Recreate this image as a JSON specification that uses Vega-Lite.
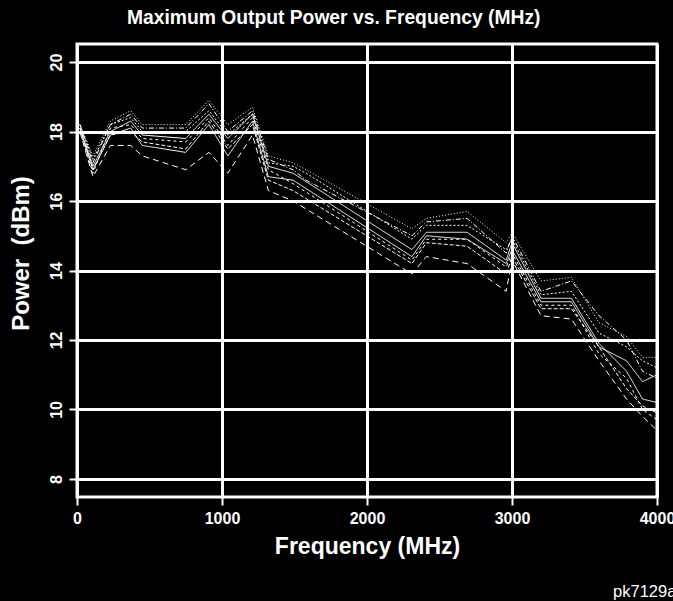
{
  "$schema": "https://vega.github.io/schema/vega-lite/v6.json",
  "width": 580,
  "height": 453,
  "autosize": {"type": "none"},
  "padding": {"left": 77, "top": 44, "right": 16, "bottom": 104},
  "background": "black",
  "config": {
    "font": "Liberation Sans",
    "view": {"stroke": "white", "strokeWidth": 3}
  },
  "title": {
    "text": "Maximum Output Power vs. Frequency (MHz)",
    "color": "white",
    "font": "Liberation Sans",
    "fontSize": 19.3,
    "fontWeight": "bold",
    "anchor": "middle",
    "frame": "bounds",
    "dx": -9,
    "offset": 16
  },
  "layer": [
    {
      "data": {
        "values": [
          {"t":"A","f":20,"p":18.2},{"t":"A","f":110,"p":17.3},{"t":"A","f":230,"p":18.3},{"t":"A","f":370,"p":18.6},{"t":"A","f":450,"p":18.2},{"t":"A","f":750,"p":18.2},{"t":"A","f":910,"p":18.9},{"t":"A","f":1040,"p":18.2},{"t":"A","f":1210,"p":18.7},{"t":"A","f":1320,"p":17.3},{"t":"A","f":1490,"p":17.1},{"t":"A","f":1580,"p":16.9},{"t":"A","f":2310,"p":15.2},{"t":"A","f":2410,"p":15.5},{"t":"A","f":2690,"p":15.7},{"t":"A","f":2960,"p":14.8},{"t":"A","f":3000,"p":15.1},{"t":"A","f":3200,"p":13.7},{"t":"A","f":3410,"p":13.8},{"t":"A","f":3600,"p":12.5},{"t":"A","f":3790,"p":12.1},{"t":"A","f":3900,"p":11.5},{"t":"A","f":4000,"p":11.5},
          {"t":"B","f":20,"p":18.2},{"t":"B","f":110,"p":17.1},{"t":"B","f":230,"p":18.2},{"t":"B","f":370,"p":18.5},{"t":"B","f":450,"p":18.1},{"t":"B","f":750,"p":18.1},{"t":"B","f":910,"p":18.8},{"t":"B","f":1040,"p":18.0},{"t":"B","f":1210,"p":18.6},{"t":"B","f":1320,"p":17.2},{"t":"B","f":1490,"p":16.9},{"t":"B","f":1580,"p":16.6},{"t":"B","f":2310,"p":15.0},{"t":"B","f":2410,"p":15.4},{"t":"B","f":2690,"p":15.5},{"t":"B","f":2960,"p":14.5},{"t":"B","f":3000,"p":15.0},{"t":"B","f":3200,"p":13.4},{"t":"B","f":3410,"p":13.7},{"t":"B","f":3600,"p":12.7},{"t":"B","f":3790,"p":12.0},{"t":"B","f":3900,"p":11.1},{"t":"B","f":4000,"p":10.9},
          {"t":"C","f":20,"p":18.1},{"t":"C","f":110,"p":17.0},{"t":"C","f":230,"p":18.0},{"t":"C","f":370,"p":18.3},{"t":"C","f":450,"p":17.9},{"t":"C","f":750,"p":17.8},{"t":"C","f":910,"p":18.5},{"t":"C","f":1040,"p":17.8},{"t":"C","f":1210,"p":18.5},{"t":"C","f":1320,"p":17.0},{"t":"C","f":1490,"p":16.8},{"t":"C","f":2310,"p":14.6},{"t":"C","f":2410,"p":15.1},{"t":"C","f":2690,"p":15.1},{"t":"C","f":2960,"p":14.3},{"t":"C","f":3000,"p":14.8},{"t":"C","f":3200,"p":13.2},{"t":"C","f":3410,"p":13.2},{"t":"C","f":3600,"p":11.9},{"t":"C","f":3790,"p":11.1},{"t":"C","f":3900,"p":10.3},{"t":"C","f":4000,"p":10.2},
          {"t":"D","f":20,"p":18.1},{"t":"D","f":110,"p":16.9},{"t":"D","f":230,"p":17.9},{"t":"D","f":370,"p":18.1},{"t":"D","f":450,"p":17.6},{"t":"D","f":750,"p":17.4},{"t":"D","f":910,"p":18.2},{"t":"D","f":1040,"p":17.3},{"t":"D","f":1210,"p":18.3},{"t":"D","f":1320,"p":16.7},{"t":"D","f":1490,"p":16.6},{"t":"D","f":2310,"p":14.4},{"t":"D","f":2410,"p":15.0},{"t":"D","f":2690,"p":14.9},{"t":"D","f":2960,"p":14.2},{"t":"D","f":3000,"p":14.6},{"t":"D","f":3200,"p":13.1},{"t":"D","f":3410,"p":13.1},{"t":"D","f":3600,"p":11.8},{"t":"D","f":3790,"p":11.4},{"t":"D","f":3900,"p":10.8},{"t":"D","f":4000,"p":11.0},
          {"t":"E","f":20,"p":18.0},{"t":"E","f":110,"p":16.8},{"t":"E","f":230,"p":18.1},{"t":"E","f":370,"p":18.2},{"t":"E","f":450,"p":17.8},{"t":"E","f":750,"p":17.7},{"t":"E","f":910,"p":18.4},{"t":"E","f":1040,"p":17.6},{"t":"E","f":1210,"p":18.4},{"t":"E","f":1320,"p":16.9},{"t":"E","f":1490,"p":16.5},{"t":"E","f":2310,"p":14.3},{"t":"E","f":2410,"p":14.9},{"t":"E","f":2690,"p":14.9},{"t":"E","f":2960,"p":14.1},{"t":"E","f":3000,"p":14.5},{"t":"E","f":3200,"p":13.0},{"t":"E","f":3410,"p":13.0},{"t":"E","f":3600,"p":11.6},{"t":"E","f":3790,"p":10.9},{"t":"E","f":3900,"p":10.0},{"t":"E","f":4000,"p":9.7},
          {"t":"F","f":20,"p":18.0},{"t":"F","f":110,"p":16.7},{"t":"F","f":230,"p":17.6},{"t":"F","f":370,"p":17.6},{"t":"F","f":450,"p":17.3},{"t":"F","f":750,"p":16.9},{"t":"F","f":910,"p":17.4},{"t":"F","f":1040,"p":16.8},{"t":"F","f":1210,"p":17.9},{"t":"F","f":1320,"p":16.3},{"t":"F","f":1490,"p":16.0},{"t":"F","f":2310,"p":13.9},{"t":"F","f":2410,"p":14.4},{"t":"F","f":2690,"p":14.2},{"t":"F","f":2960,"p":13.4},{"t":"F","f":3000,"p":14.3},{"t":"F","f":3200,"p":12.7},{"t":"F","f":3410,"p":12.6},{"t":"F","f":3600,"p":11.4},{"t":"F","f":3790,"p":10.3},{"t":"F","f":3900,"p":9.8},{"t":"F","f":4000,"p":9.4},
          {"t":"G","f":20,"p":18.2},{"t":"G","f":110,"p":17.2},{"t":"G","f":230,"p":18.2},{"t":"G","f":370,"p":18.4},{"t":"G","f":450,"p":18.0},{"t":"G","f":750,"p":18.0},{"t":"G","f":910,"p":18.6},{"t":"G","f":1040,"p":17.9},{"t":"G","f":1210,"p":18.5},{"t":"G","f":1320,"p":17.1},{"t":"G","f":1490,"p":17.0},{"t":"G","f":1580,"p":16.8},{"t":"G","f":2310,"p":14.9},{"t":"G","f":2410,"p":15.3},{"t":"G","f":2690,"p":15.3},{"t":"G","f":2960,"p":14.6},{"t":"G","f":3000,"p":14.9},{"t":"G","f":3200,"p":13.3},{"t":"G","f":3410,"p":13.4},{"t":"G","f":3600,"p":12.2},{"t":"G","f":3790,"p":11.8},{"t":"G","f":3900,"p":11.4},{"t":"G","f":4000,"p":11.2},
          {"t":"H","f":20,"p":18.1},{"t":"H","f":110,"p":16.9},{"t":"H","f":230,"p":17.9},{"t":"H","f":370,"p":18.0},{"t":"H","f":450,"p":17.7},{"t":"H","f":750,"p":17.5},{"t":"H","f":910,"p":18.3},{"t":"H","f":1040,"p":17.5},{"t":"H","f":1210,"p":18.2},{"t":"H","f":1320,"p":16.6},{"t":"H","f":1490,"p":16.3},{"t":"H","f":2310,"p":14.2},{"t":"H","f":2410,"p":14.8},{"t":"H","f":2690,"p":14.7},{"t":"H","f":2960,"p":13.9},{"t":"H","f":3000,"p":14.4},{"t":"H","f":3200,"p":12.9},{"t":"H","f":3410,"p":12.9},{"t":"H","f":3600,"p":11.8},{"t":"H","f":3790,"p":10.6},{"t":"H","f":3900,"p":10.1},{"t":"H","f":4000,"p":9.9}
        ]
      },
      "mark": {"type": "line", "color": "white", "strokeWidth": 1, "clip": true},
      "encoding": {
        "x": {
          "field": "f", "type": "quantitative",
          "scale": {"domain": [0, 4000], "nice": false, "zero": false},
          "axis": {
            "values": [0, 1000, 2000, 3000, 4000],
            "format": "d",
            "grid": true, "gridColor": "white", "gridWidth": 3, "gridOpacity": 1,
            "domain": false,
            "ticks": true, "tickColor": "white", "tickSize": 8, "tickWidth": 2,
            "labelColor": "white", "labelFont": "Liberation Sans", "labelFontSize": 16, "labelFontWeight": "bold",
            "labelPadding": 5, "labelFlush": false, "labelOverlap": false,
            "title": "Frequency (MHz)", "titleColor": "white", "titleFont": "Liberation Sans",
            "titleFontSize": 23, "titleFontWeight": "bold", "titlePadding": 9
          }
        },
        "y": {
          "field": "p", "type": "quantitative",
          "scale": {"domain": [7.48, 20.52], "nice": false, "zero": false},
          "axis": {
            "values": [8, 10, 12, 14, 16, 18, 20],
            "grid": true, "gridColor": "white", "gridWidth": 3, "gridOpacity": 1,
            "domain": false,
            "ticks": true, "tickColor": "white", "tickSize": 8, "tickWidth": 2,
            "labelColor": "white", "labelFont": "Liberation Sans", "labelFontSize": 16, "labelFontWeight": "bold",
            "labelAngle": 270, "labelAlign": "center", "labelBaseline": "alphabetic", "labelPadding": 8,
            "labelFlush": false, "labelOverlap": false,
            "title": "Power\u00a0\u00a0(dBm)", "titleColor": "white", "titleFont": "Liberation Sans",
            "titleFontSize": 24, "titleFontWeight": "bold", "titlePadding": 15,
            "titleY": 209
          }
        },
        "detail": {"field": "t", "type": "nominal"},
        "strokeDash": {
          "field": "t", "type": "nominal", "legend": null,
          "scale": {
            "domain": ["A", "B", "C", "D", "E", "F", "G", "H"],
            "range": [[1, 2], [5, 2, 1, 2], [1, 0], [1, 0], [3, 3], [6, 4], [2, 2], [4, 2]]
          }
        }
      }
    },
    {
      "data": {"values": [{"label": "pk7129a"}]},
      "mark": {"type": "text", "color": "white", "font": "Liberation Sans", "fontSize": 16.5, "fontWeight": "normal", "align": "left", "baseline": "middle"},
      "encoding": {
        "text": {"field": "label", "type": "nominal"},
        "x": {"datum": 3697, "type": "quantitative"},
        "y": {"datum": 4.75, "type": "quantitative"}
      }
    }
  ]
}
